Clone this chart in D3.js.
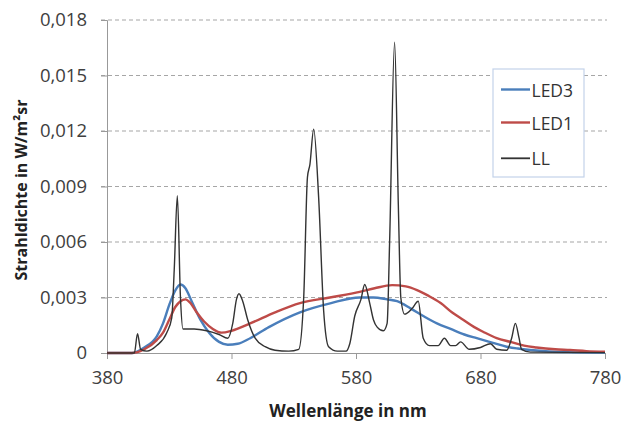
<!DOCTYPE html>
<meta charset="utf-8">
<script src="https://d3js.org/d3.v7.min.js"></script>
<style>
  body { margin: 0; background: #fff; }
  text { font-family: "Open Sans", sans-serif; }
</style>
<div id="my_dataviz"></div>
<script>

// spectral data (wavelength in nm, radiance in W/m²sr)
var led3Nm  = [380, 400, 410, 420, 425, 430, 435, 439, 443, 448, 455, 462, 470, 477, 485, 495, 510, 535, 560, 583, 594, 605, 613, 624, 634, 645, 656, 667, 677, 690, 701, 710, 720, 735, 750, 780]
var led3Val = [0, 0, 0.0003, 0.0009, 0.0016, 0.0026, 0.0034, 0.0037, 0.0035, 0.0028, 0.0018, 0.0011, 0.0006, 0.00045, 0.0005, 0.0008, 0.0014, 0.0022, 0.0027, 0.0030, 0.0030, 0.0029, 0.0028, 0.0024, 0.0020, 0.0016, 0.0013, 0.0010, 0.0008, 0.00055, 0.00034, 0.00024, 0.00016, 0.00008, 0.00005, 0.00002]

var led1Nm  = [380, 400, 410, 420, 425, 430, 435, 439, 443, 447, 452, 458, 465, 472, 480, 495, 515, 535, 559, 583, 595, 609, 620, 629, 638, 648, 657, 666, 675, 682, 693, 704, 715, 725, 740, 752, 765, 780]
var led1Val = [0, 0, 0.0002, 0.0007, 0.0011, 0.0018, 0.0025, 0.0028, 0.0029, 0.0027, 0.0022, 0.0017, 0.0013, 0.0011, 0.0012, 0.0016, 0.0022, 0.0027, 0.0030, 0.0033, 0.0035, 0.00367, 0.0036, 0.0034, 0.0031, 0.0027, 0.0022, 0.0018, 0.0014, 0.00115, 0.0008, 0.0006, 0.0004, 0.0003, 0.0002, 0.00016, 0.0001, 0.00007]

var llNm  = [380, 402, 404.5, 407, 412, 420, 428, 432, 434, 436.5, 439, 441, 450, 460, 470, 477, 481, 484, 486, 489, 493, 499, 507, 515, 526, 534, 538, 541, 543, 546, 550, 554, 558, 565, 572, 575, 579, 584, 587, 591, 594, 597, 602, 605, 607, 611, 614, 616, 619, 625, 630, 634, 639, 646, 651, 656, 660, 664, 671, 680, 688, 693, 701, 705, 708, 711, 713, 720, 780]
var llVal = [0, 0, 0.00105, 0.0002, 0.0001, 0.0004, 0.0011, 0.0019, 0.0045, 0.0085, 0.003, 0.0013, 0.0013, 0.0012, 0.001, 0.0008, 0.0016, 0.0029, 0.0032, 0.0028, 0.0018, 0.0008, 0.00034, 0.00015, 0.0001, 0.0002, 0.003, 0.0095, 0.0102, 0.0121, 0.0084, 0.0023, 0.00034, 0.0001, 0.0001, 0.0005, 0.002, 0.0029, 0.0037, 0.0027, 0.0018, 0.0014, 0.0012, 0.0016, 0.006, 0.0168, 0.008, 0.003, 0.0021, 0.0024, 0.0028, 0.0008, 0.0004, 0.0004, 0.0008, 0.0004, 0.0004, 0.0006, 0.0002, 0.0003, 0.0005, 0.0002, 0.00015, 0.0008, 0.0016, 0.0008, 0.0002, 0.00005, 0.00002]

var xTicks = [380, 480, 580, 680, 780]
var yTicks = [0, 0.003, 0.006, 0.009, 0.012, 0.015, 0.018]

var seriesNames  = ["LED3", "LED1", "LL"]
var seriesColors = ["#4a7ebb", "#be4b48", "#333333"]

// set the dimensions and margins of the graph
var margin = {top: 20, right: 25, bottom: 70, left: 107},
  width = 605 - margin.left,
  height = 353 - margin.top;

var svg = d3.select("#my_dataviz")
  .append("svg")
  .attr("width", 630)
  .attr("height", 423)
  .append("g")
  .attr("transform", "translate(" + margin.left + "," + margin.top + ")");

var x = d3.scaleLinear().domain([380, 780]).range([0, width])
var y = d3.scaleLinear().domain([0, 0.018]).range([height, 0])

var fmt = function(d) { return d === 0 ? "0" : d3.format(".3f")(d).replace(".", ","); }

// dashed gridlines
svg.append("g")
  .selectAll("line")
  .data(yTicks.slice(1))
  .enter().append("line")
  .attr("x1", -6).attr("x2", width + 2)
  .attr("y1", d => y(d)).attr("y2", d => y(d))
  .attr("stroke", "#a6a6a6")
  .attr("stroke-width", 1.2)
  .attr("stroke-dasharray", "4,3")

// Y axis
var yAxis = svg.append("g")
  .call(d3.axisLeft(y).tickValues(yTicks).tickFormat(fmt).tickSize(6).tickPadding(14))
yAxis.select(".domain").attr("stroke", "#999")
yAxis.selectAll(".tick line").attr("stroke", "#999")
yAxis.selectAll("text").attr("fill", "#404040").style("font-size", "18.5px")

// X axis
var xAxis = svg.append("g")
  .attr("transform", "translate(0," + height + ")")
  .call(d3.axisBottom(x).tickValues(xTicks).tickSize(6).tickPadding(12).tickSizeOuter(0))
xAxis.select(".domain").attr("stroke", "#999")
xAxis.selectAll(".tick line").attr("stroke", "#999")
xAxis.selectAll("text").attr("fill", "#404040").style("font-size", "18.5px")

// axis titles
svg.append("text")
  .attr("transform", "translate(" + (21 - margin.left) + "," + (190 - margin.top) + ") rotate(-90)")
  .attr("text-anchor", "middle")
  .attr("dominant-baseline", "central")
  .style("font-size", "16px")
  .style("font-weight", "bold")
  .attr("fill", "#222")
  .text("Strahldichte in W/m²sr")

svg.append("text")
  .attr("x", 348 - margin.left)
  .attr("y", 410 - margin.top)
  .attr("text-anchor", "middle")
  .attr("dominant-baseline", "central")
  .style("font-size", "17px")
  .style("font-weight", "bold")
  .attr("fill", "#222")
  .text("Wellenlänge in nm")

// lines
var line = d3.line()
  .x(d => x(d[0]))
  .y(d => y(d[1]))
  .curve(d3.curveMonotoneX)

var series = [
  d3.zip(led3Nm, led3Val),
  d3.zip(led1Nm, led1Val),
  d3.zip(llNm, llVal)
]
var widths = [2.4, 2.4, 1.4]

series.forEach(function(s, i) {
  svg.append("path")
    .datum(s)
    .attr("fill", "none")
    .attr("stroke", seriesColors[i])
    .attr("stroke-width", widths[i])
    .attr("stroke-linejoin", "round")
    .attr("d", line)
})

// legend
var legend = svg.append("g")
  .attr("transform", "translate(" + (493 - margin.left) + "," + (69 - margin.top) + ")")

legend.append("rect")
  .attr("width", 91).attr("height", 108)
  .attr("fill", "#fff")
  .attr("stroke", "#c3d3ea")
  .attr("stroke-width", 1.2)

var legendY = [20.5, 53.5, 89.3]
seriesNames.forEach(function(name, i) {
  legend.append("line")
    .attr("x1", 8).attr("x2", 37)
    .attr("y1", legendY[i]).attr("y2", legendY[i])
    .attr("stroke", seriesColors[i])
    .attr("stroke-width", i == 2 ? 1.8 : 2.4)
  legend.append("text")
    .attr("x", 38.5).attr("y", legendY[i])
    .attr("dominant-baseline", "central")
    .style("font-size", "17.5px")
    .attr("fill", "#333")
    .text(name)
})

</script>
